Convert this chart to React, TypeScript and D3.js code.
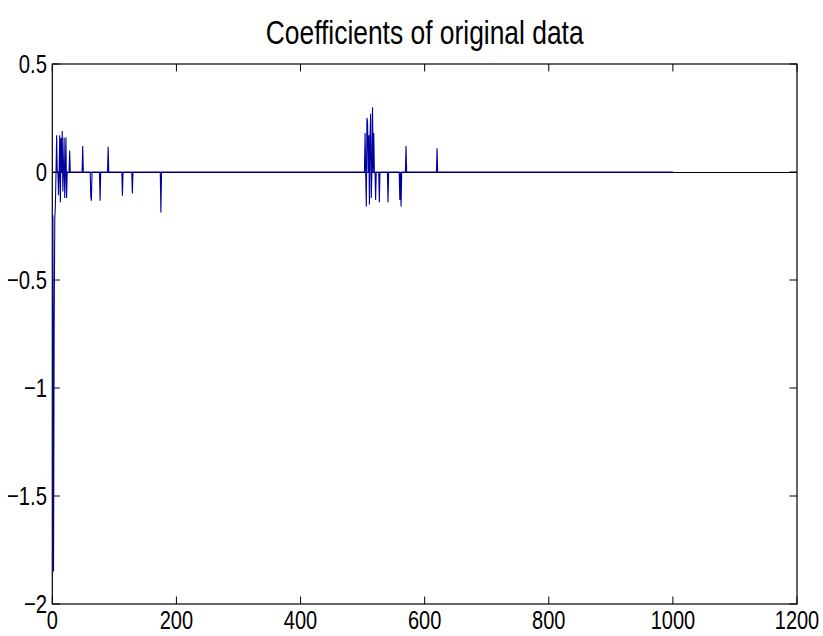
import React from "react";
import * as d3 from "d3";

const TITLE = "Coefficients of original data";
const N = 1000;
const spikeIdx = [1, 2, 3, 4, 5, 7, 10, 12, 13, 14, 16, 17, 19, 20, 22, 23, 28, 49, 62, 63, 77, 90, 113, 129, 175,
  504, 506, 507, 508, 510, 511, 512, 513, 514, 516, 518, 521, 527, 541, 560, 562, 570, 620];
const spikeVal = [-0.2, -1.85, -0.7, -0.22, -0.15, 0.17, -0.107, 0.17, -0.14, 0.157, 0.19, -0.09, 0.16, -0.12, 0.16, -0.12, 0.1, 0.12, -0.114, -0.133, -0.133, 0.117, -0.11, -0.1, -0.187,
  0.18, -0.16, 0.25, 0.23, 0.17, -0.15, 0.16, 0.27, -0.12, 0.3, 0.18, -0.13, -0.14, -0.14, -0.13, -0.16, 0.12, 0.11];
const xTicks = [0, 200, 400, 600, 800, 1000, 1200];
const yTicks = [0.5, 0, -0.5, -1, -1.5, -2];
const yTickLabels = ["0.5", "0", "\u22120.5", "\u22121", "\u22121.5", "\u22122"];

const W = 823, H = 636;
const L = 52.3, R = 797, T = 64, B = 604;
const FONT = "'Liberation Sans', Arial, Helvetica, sans-serif";

function Txt({ x, y, size, anchor, sx, children }: { x: number; y: number; size: number; anchor: string; sx: number; children: React.ReactNode }) {
  return (
    <text transform={`translate(${x},${y}) scale(${sx},1)`} textAnchor={anchor} fontFamily={FONT} fontSize={size} fill="#000">
      {children}
    </text>
  );
}

export default function App() {
  const x = d3.scaleLinear().domain([0, 1200]).range([L, R]);
  const y = d3.scaleLinear().domain([-2, 0.5]).range([B, T]);
  const vals: number[] = new Array(N).fill(0);
  spikeIdx.forEach((i, k) => { vals[i - 1] = spikeVal[k]; });
  const pts: [number, number][] = vals.map((v, i) => [i + 1, v]);
  const line = d3.line<[number, number]>().x(d => x(d[0])).y(d => y(d[1]));
  const tl = 7.5;
  return (
    <svg width={W} height={H} style={{ position: "absolute", left: 0, top: 0, background: "#fff" }}>
      <rect x={0} y={0} width={W} height={H} fill="#fff" />
      <rect x={L} y={T} width={R - L} height={B - T} fill="none" stroke="#000" strokeWidth={1.2} />
      {xTicks.map(t => (
        <g key={"x" + t}>
          <line x1={x(t)} x2={x(t)} y1={B} y2={B - tl} stroke="#000" strokeWidth={1} />
          <line x1={x(t)} x2={x(t)} y1={T} y2={T + tl} stroke="#000" strokeWidth={1} />
          <Txt x={x(t)} y={629} size={25} sx={0.8} anchor="middle">{t}</Txt>
        </g>
      ))}
      {yTicks.map((t, i) => (
        <g key={"y" + t}>
          <line x1={L} x2={L + tl} y1={y(t)} y2={y(t)} stroke="#000" strokeWidth={1} />
          <line x1={R} x2={R - tl} y1={y(t)} y2={y(t)} stroke="#000" strokeWidth={1} />
          <Txt x={47} y={y(t) + 9} size={26} sx={0.78} anchor="end">{yTickLabels[i]}</Txt>
        </g>
      ))}
      <line x1={L} x2={R} y1={y(0) + 0.5} y2={y(0) + 0.5} stroke="#000" strokeWidth={1} />
      <path d={line(pts) || ""} fill="none" stroke="#0000a0" strokeWidth={1.1} />
      <Txt x={(L + R) / 2} y={44} size={33} sx={0.8} anchor="middle">{TITLE}</Txt>
    </svg>
  );
}
